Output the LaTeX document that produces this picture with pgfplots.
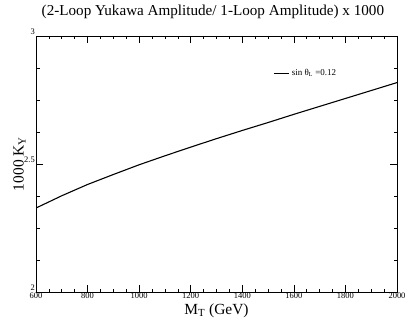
\documentclass[border=0pt]{standalone}
\usepackage{fontspec}
\setmainfont{Liberation Serif}
\usepackage{pgfplots}
\pgfplotsset{compat=1.18}

\begin{document}
\begin{tikzpicture}
  \path[use as bounding box] (-36bp,-28bp) rectangle (372bp,292bp);
  \begin{axis}[
      at={(0,0)}, anchor=south west,
      scale only axis,
      width=361bp, height=256bp,
      xmin=600, xmax=2000,
      ymin=2, ymax=3,
      xtick={600,800,...,2000},
      ytick={2,2.5,3},
      minor x tick num=3,
      minor y tick num=3,
      tick align=inside,
      major tick length=7bp,
      minor tick length=3.5bp,
      axis line style={line width=0.8pt},
      tick style={line width=0.6pt, black},
      /pgf/number format/assume math mode=true,
      /pgf/number format/1000 sep={},
      yticklabel style={font=\fontsize{8.5}{9}\selectfont, inner sep=1pt, yshift=4bp},
      xticklabel style={font=\fontsize{8.5}{9}\selectfont, inner sep=1pt},
      xlabel={M\textsubscript{T} (GeV)},
      ylabel={1000 K\textsubscript{Y}},
      xlabel style={font=\fontsize{15.5}{16}\selectfont, yshift=0bp},
      ylabel style={font=\fontsize{15.5}{16}\selectfont, yshift=-6bp},
      title={(2-Loop Yukawa Amplitude/ 1-Loop Amplitude) x 1000},
      title style={font=\fontsize{15.2}{16}\selectfont, at={(rel axis cs:0.49,1)}, anchor=south, yshift=8bp},
      legend style={draw=none, fill=none, font=\fontsize{9}{10}\selectfont,
        at={(rel axis cs:0.658,0.855)}, anchor=west, inner sep=0pt},
      legend cell align=left,
      legend image code/.code={\draw[line width=1.2pt] (0bp,0bp) -- (15bp,0bp);},
    ]
    \addplot[black, line width=1.1pt] coordinates {
      (600,2.328) (700,2.376) (800,2.420) (900,2.459) (1000,2.497)
      (1100,2.532) (1200,2.566) (1300,2.599) (1400,2.631) (1500,2.662)
      (1600,2.694) (1700,2.725) (1800,2.756) (1900,2.787) (2000,2.818)
    };
    \addlegendentry{sin θ\textsubscript{L} =0.12}
  \end{axis}
\end{tikzpicture}
\end{document}
